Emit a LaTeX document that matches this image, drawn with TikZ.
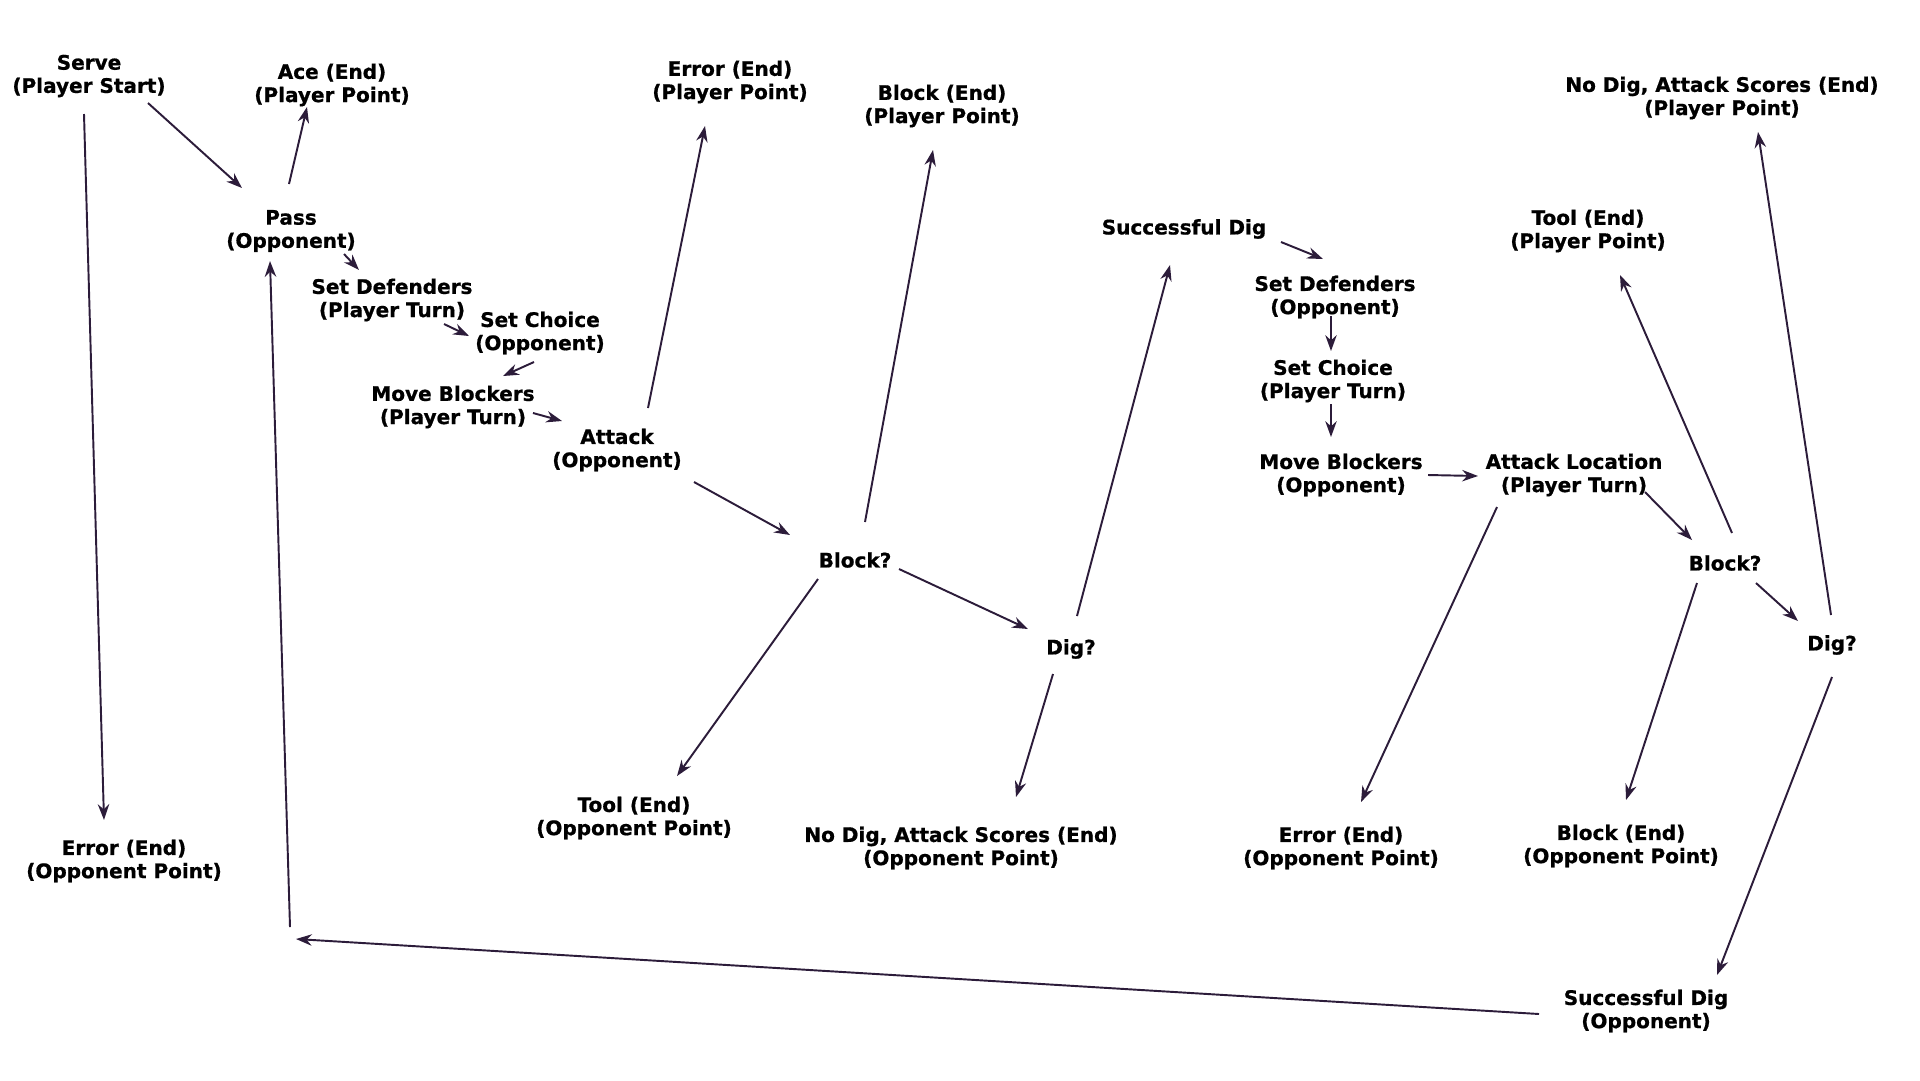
\documentclass[tikz,border=0pt]{standalone}
\usepackage{fontspec}
\setmainfont{DejaVu Sans}[BoldFeatures={FakeBold=0.8}]
\usetikzlibrary{arrows.meta,calc}
\definecolor{linkpurple}{RGB}{44,28,58}

\begin{document}
\begin{tikzpicture}[x=0.02cm, y=-0.02cm,
        every node/.style={align=center, inner sep=0pt, font=\fontsize{11.4}{13.2}\selectfont\bfseries},
        link/.style={-{Stealth[length=9pt,width=6.5pt]}, line width=1.1pt, draw=linkpurple}]
        \fill[white] (0,0) rectangle (1920,1080);
        \useasboundingbox (0,0) rectangle (1920,1080);

        % serve and first rally
        \node (serve) at (89,76) {Serve\\(Player Start)};
        \node (errserve) at (124,861) {Error (End)\\(Opponent Point)};
        \node (ace) at (332,85) {Ace (End)\\(Player Point)};
        \node (pass) at (291,231) {Pass\\(Opponent)};
        \node (setdefA) at (392,300) {Set Defenders\\(Player Turn)};
        \node (setchoiceA) at (540,333) {Set Choice\\(Opponent)};
        \node (moveA) at (453,407) {Move Blockers\\(Player Turn)};
        \node (attack) at (617,450) {Attack\\(Opponent)};
        \node (errA) at (730,82) {Error (End)\\(Player Point)};
        \node (blockA) at (942,106) {Block (End)\\(Player Point)};
        \node (blockq) at (855,560) {Block?};
        \node (digq) at (1071,649) {Dig?};
        \node (toolA) at (634,818) {Tool (End)\\(Opponent Point)};
        \node (nodigA) at (961,848) {No Dig, Attack Scores (End)\\(Opponent Point)};

        % player attacks back
        \node (digok) at (1184,229) {Successful Dig};
        \node (setdefB) at (1335,297) {Set Defenders\\(Opponent)};
        \node (setchoiceB) at (1333,381) {Set Choice\\(Player Turn)};
        \node (moveB) at (1341,475) {Move Blockers\\(Opponent)};
        \node (attloc) at (1574,475) {Attack Location\\(Player Turn)};
        \node (toolB) at (1588,231) {Tool (End)\\(Player Point)};
        \node (nodigB) at (1722,98) {No Dig, Attack Scores (End)\\(Player Point)};
        \node (blockqB) at (1725,563) {Block?};
        \node (digqB) at (1832,645) {Dig?};
        \node (errB) at (1341,848) {Error (End)\\(Opponent Point)};
        \node (blockB) at (1621,846) {Block (End)\\(Opponent Point)};
        \node (digokB) at (1646,1011) {Successful Dig\\(Opponent)};
        \coordinate (relay) at (293,933);

        \draw[link] ($(serve)+(59,27)$) -- ($(pass)+(-49,-43)$);
        \draw[link] ($(serve)+(-5,38)$) -- ($(errserve)+(-20,-41)$);
        \draw[link] ($(pass)+(-2,-47)$) -- ($(ace)+(-25,22)$);
        \draw[link] ($(pass)+(53,23)$) -- ($(setdefA)+(-33,-30)$);
        \draw[link] ($(setdefA)+(52,24)$) -- ($(setchoiceA)+(-71,3)$);
        \draw[link] ($(setchoiceA)+(-6,29)$) -- ($(moveA)+(50,-31)$);
        \draw[link] ($(moveA)+(80,6)$) -- ($(attack)+(-55,-29)$);
        \draw[link] ($(attack)+(31,-42)$) -- ($(errA)+(-25,44)$);
        \draw[link] ($(attack)+(77,32)$) -- ($(blockq)+(-65,-25)$);
        \draw[link] ($(blockq)+(10,-38)$) -- ($(blockA)+(-9,44)$);
        \draw[link] ($(blockq)+(-37,19)$) -- ($(toolA)+(43,-42)$);
        \draw[link] ($(blockq)+(44,9)$) -- ($(digq)+(-43,-20)$);
        \draw[link] ($(digq)+(6,-33)$) -- ($(digok)+(-14,36)$);
        \draw[link] ($(digq)+(-18,25)$) -- ($(nodigA)+(55,-51)$);

        \draw[link] ($(digok)+(97,13)$) -- ($(setdefB)+(-12,-38)$);
        \draw[link] ($(setdefB)+(-4,19)$) -- ($(setchoiceB)+(-2,-30)$);
        \draw[link] ($(setchoiceB)+(-2,23)$) -- ($(moveB)+(-10,-38)$);
        \draw[link] ($(moveB)+(87,0)$) -- ($(attloc)+(-96,1)$);
        \draw[link] ($(attloc)+(-77,32)$) -- ($(errB)+(20,-46)$);
        \draw[link] ($(attloc)+(71,17)$) -- ($(blockqB)+(-33,-23)$);
        \draw[link] ($(blockqB)+(7,-30)$) -- ($(toolB)+(32,44)$);
        \draw[link] ($(blockqB)+(-28,20)$) -- ($(blockB)+(5,-46)$);
        \draw[link] ($(blockqB)+(31,20)$) -- ($(digqB)+(-34,-24)$);
        \draw[link] ($(digqB)+(-1,-30)$) -- ($(nodigB)+(36,34)$);
        \draw[link] ($(digqB)+(0,32)$) -- ($(digokB)+(71,-36)$);
        \draw[link] ($(digokB)+(-107,3)$) -- ($(relay)+(3,6)$);
        \draw[link] ($(relay)+(-3,-6)$) -- ($(pass)+(-21,30)$);
    \end{tikzpicture}
\end{document}
